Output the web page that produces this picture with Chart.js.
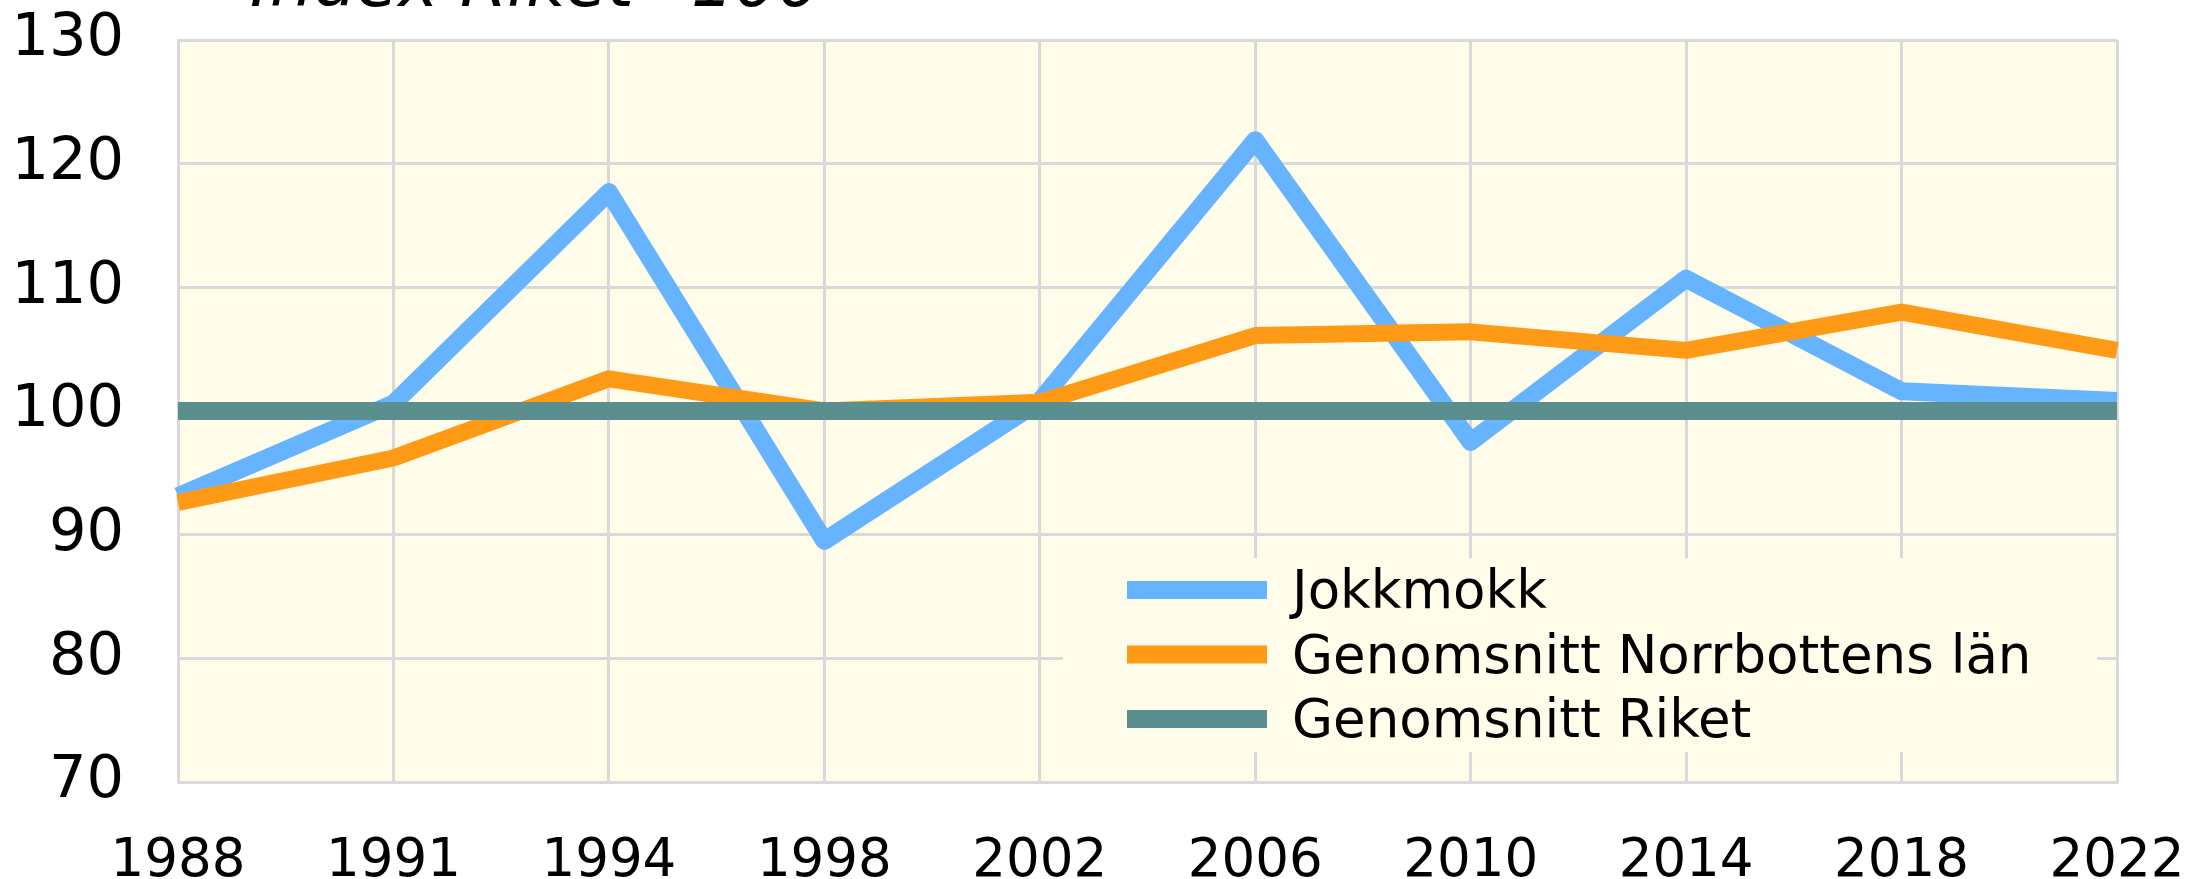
<!DOCTYPE html>
<html><head><meta charset="utf-8">
<script src="https://cdn.jsdelivr.net/npm/chart.js@4/dist/chart.umd.min.js"></script>
<style>html,body{margin:0;padding:0;background:#fff;overflow:hidden}#wrap{width:2193px;height:879px;position:relative}</style>
</head><body><div id="wrap"><canvas id="c" width="2193" height="879"></canvas></div>
<script>
const years = ['1988','1991','1994','1998','2002','2006','2010','2014','2018','2022'];
const jokkmokk = [93.1, 100.6, 117.7, 89.5, 100.8, 121.9, 97.5, 110.7, 101.6, 100.8];
const norrbotten = [92.6, 96.2, 102.6, 100.0, 100.7, 106.1, 106.4, 104.9, 108.0, 104.9];
const riket = [100, 100, 100, 100, 100, 100, 100, 100, 100, 100];
const seriesNames = ['Jokkmokk', 'Genomsnitt Norrbottens län', 'Genomsnitt Riket'];
const yMin = 70, yMax = 130, yStep = 10;
const titleText = 'Index Riket=100';

const FONT = '"DejaVu Sans", Verdana, sans-serif';
const BG = '#FFFDE9';
const GRID = '#D9D9D9';
const COLORS = ['#66B3FF', '#FF9A17', '#5B8F8F'];

const bgPlugin = {
  id: 'plotBg',
  beforeDraw(chart) {
    const a = chart.chartArea, ctx = chart.ctx;
    ctx.save(); ctx.fillStyle = BG; ctx.fillRect(a.left, a.top, a.right - a.left, a.bottom - a.top); ctx.restore();
  }
};

const legendPlugin = {
  id: 'innerLegend',
  beforeDatasetsDraw(chart) {
    const ctx = chart.ctx;
    ctx.save(); ctx.fillStyle = BG; ctx.fillRect(1063, 558, 1034, 194); ctx.restore();
  },
  afterDatasetsDraw(chart) {
    const ctx = chart.ctx;
    ctx.save();
    ctx.font = '53px ' + FONT;
    ctx.textBaseline = 'alphabetic';
    ctx.textAlign = 'left';
    chart.data.datasets.forEach((ds, i) => {
      const base = 608 + i * 64.5;
      ctx.fillStyle = ds.borderColor;
      ctx.fillRect(1127, base - 27, 140, 18);
      ctx.fillStyle = '#000';
      ctx.fillText(ds.label, 1292, base);
    });
    ctx.restore();
  }
};

const titlePlugin = {
  id: 'topTitle',
  afterDraw(chart) {
    const ctx = chart.ctx;
    ctx.save();
    ctx.font = 'italic 68px ' + FONT;
    ctx.fillStyle = '#000';
    ctx.textBaseline = 'alphabetic';
    ctx.textAlign = 'left';
    ctx.fillText(titleText, 250, 6);
    ctx.restore();
  }
};

new Chart(document.getElementById('c'), {
  type: 'line',
  data: {
    labels: years,
    datasets: [
      { label: seriesNames[0], data: jokkmokk, borderColor: COLORS[0], backgroundColor: COLORS[0], borderWidth: 18, order: 2 },
      { label: seriesNames[1], data: norrbotten, borderColor: COLORS[1], backgroundColor: COLORS[1], borderWidth: 17, order: 1 },
      { label: seriesNames[2], data: riket, borderColor: COLORS[2], backgroundColor: COLORS[2], borderWidth: 18, order: 0 }
    ].map(d => Object.assign(d, { pointRadius: 0, pointHoverRadius: 0, tension: 0, fill: false, borderJoinStyle: 'round', borderCapStyle: 'butt' }))
  },
  options: {
    responsive: false,
    animation: false,
    devicePixelRatio: 1,
    layout: { padding: { top: 40, right: 76, bottom: 0, left: 0 } },
    plugins: { legend: { display: false }, tooltip: { enabled: false }, title: { display: false } },
    scales: {
      x: {
        offset: false,
        grid: { color: GRID, lineWidth: 3, drawTicks: false },
        border: { display: true, color: GRID, width: 3 },
        ticks: { color: '#000', font: { family: FONT, size: 53 }, padding: 48, maxRotation: 0, autoSkip: false },
        afterFit(s) { s.height = 97; s.paddingLeft = 0; s.paddingRight = 0; }
      },
      y: {
        min: yMin, max: yMax,
        grid: { color: GRID, lineWidth: 3, drawTicks: false },
        border: { display: true, color: GRID, width: 3 },
        ticks: { stepSize: yStep, color: '#000', font: { family: FONT, size: 59 }, padding: 54 },
        afterFit(s) { s.width = 178; s.paddingTop = 0; s.paddingBottom = 0; }
      }
    }
  },
  plugins: [bgPlugin, legendPlugin, titlePlugin]
});
</script></body></html>
